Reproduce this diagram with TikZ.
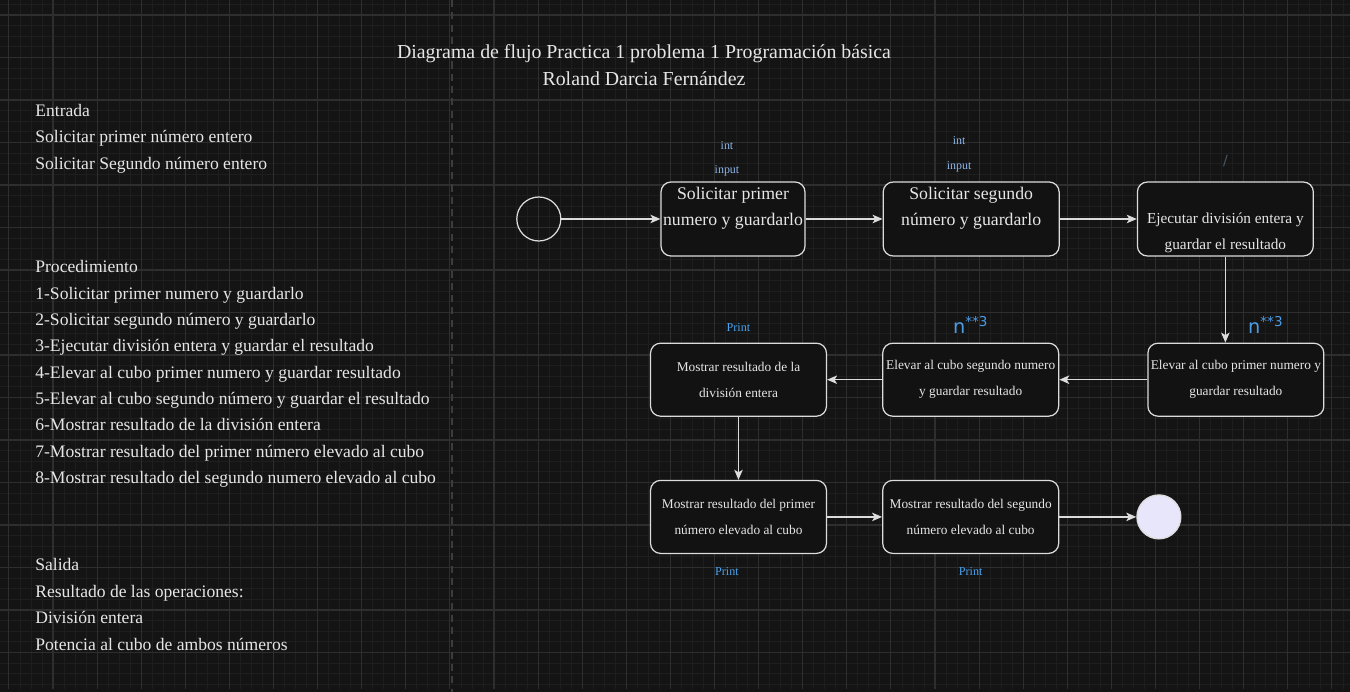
\documentclass[tikz,border=0pt]{standalone}
\usepackage{fontspec}
\setmainfont{Liberation Serif}
\newfontfamily\handfont{DejaVu Sans}
\usepackage{tikz}
\usetikzlibrary{arrows.meta, positioning}
\usepackage{xcolor}
\definecolor{bgcol}{HTML}{141414}
\definecolor{gridminor}{HTML}{1E1E1E}
\definecolor{gridmajor}{HTML}{2E2E2E}
\definecolor{dividercol}{HTML}{3C3C3C}
\definecolor{boxfill}{HTML}{121212}
\definecolor{boxline}{HTML}{DCDCDC}
\definecolor{txt}{HTML}{E6E6E6}
\definecolor{tagblue}{HTML}{8DB6EA}
\definecolor{printblue}{HTML}{4AA3F0}
\definecolor{cubeblue}{HTML}{4C9CE6}
\definecolor{slashcol}{HTML}{4A5866}
\definecolor{endfill}{HTML}{E8E6FA}

\begin{document}
\begin{tikzpicture}[
    x=0.02cm, y=-0.02cm,
    block/.style={rectangle, draw=boxline, line width=0.7pt, rounded corners=0.2cm, fill=boxfill, minimum width=3.52cm, minimum height=1.46cm, inner sep=0pt, align=center, text=txt, font=\fontsize{7.6pt}{14.8pt}\selectfont},
    bigblock/.style={block, minimum height=1.48cm, font=\fontsize{10.1pt}{14.5pt}\selectfont},
    terminal/.style={circle, draw=boxline, line width=0.7pt, minimum size=0.88cm, inner sep=0pt},
    note/.style={inner sep=0pt, align=left, text=txt, font=\fontsize{10pt}{15pt}\selectfont},
    tag/.style={inner sep=0pt, text=tagblue, font=\fontsize{6.8pt}{8pt}\selectfont},
    printtag/.style={inner sep=0pt, text=printblue, font=\fontsize{6.9pt}{8pt}\selectfont},
    cubetag/.style={inner sep=0pt, text=cubeblue, font=\handfont\fontsize{11pt}{11pt}\selectfont},
    arrow/.style={-{Stealth[length=0.2cm, width=0.17cm, inset=0.05cm]}, draw=boxline, line width=0.7pt},
]

% Background and grid
\useasboundingbox (0,0) rectangle (1350,692);
\fill[bgcol] (0,0) rectangle (1350,692);
\begin{scope}
\clip (0,0) rectangle (1350,688);
\foreach \gx in {0,...,123} \draw[gridminor, line width=0.5pt] ({-2.1+11.025*\gx},0) -- ++(0,692);
\foreach \gy in {0,...,66} \draw[gridminor, line width=0.5pt] (0,{4.375+10.625*\gy}) -- ++(1350,0);
\foreach \gx in {0,...,31} \draw[gridmajor, line width=0.6pt] ({8.9+44.1*\gx},0) -- ++(0,692);
\foreach \gy in {0,...,16} \draw[gridmajor, line width=0.6pt] (0,{15+42.5*\gy}) -- ++(1350,0);
\end{scope}
\draw[dividercol, line width=1.1pt, dash pattern=on 4pt off 3pt] (452,0) -- (452,692);

% Title
\node[note, align=center, font=\fontsize{11.3pt}{15.4pt}\selectfont] (title) at (644,65.5)
    {Diagrama de flujo Practica 1 problema 1 Programación básica\\Roland Darcia Fernández};

% Left column text
\node[note, anchor=west] (entrada) at (35,138.5)
    {Entrada\\Solicitar primer número entero\\Solicitar Segundo número entero};
\node[note, anchor=west] (procedimiento) at (35,374)
    {Procedimiento\\1-Solicitar primer numero y guardarlo\\2-Solicitar segundo número y guardarlo\\3-Ejecutar división entera y guardar el resultado\\4-Elevar al cubo primer numero y guardar resultado\\5-Elevar al cubo segundo número y guardar el resultado\\6-Mostrar resultado de la división entera\\7-Mostrar resultado del primer número elevado al cubo\\8-Mostrar resultado del segundo numero elevado al cubo};
\node[note, anchor=west] (salida) at (35,604.5)
    {Salida\\Resultado de las operaciones:\\División entera\\Potencia al cubo de ambos números};

% Top row
\node[bigblock, minimum width=2.88cm] (pedir1) at (733,219) {Solicitar primer\\numero y guardarlo\\\mbox{}};
\node[terminal, left=1.98cm of pedir1] (inicio) {};
\node[bigblock, right=1.54cm of pedir1] (pedir2) {Solicitar segundo\\número y guardarlo\\\mbox{}};
\node[block, minimum height=1.48cm, font=\fontsize{8.7pt}{14.8pt}\selectfont, right=1.54cm of pedir2] (dividir) {\rule{0pt}{6.5pt}\\Ejecutar división entera y\\guardar el resultado};

% Middle row
\node[block, below=1.72cm of dividir, xshift=0.21cm] (cubo1) {Elevar al cubo primer numero y\\guardar resultado};
\node[block, left=1.76cm of cubo1] (cubo2) {Elevar al cubo segundo numero\\y guardar resultado};
\node[block, left=1.1cm of cubo2] (mostrar1) {Mostrar resultado de la\\división entera};

% Bottom row
\node[block, below=1.26cm of mostrar1] (mostrar2) {Mostrar resultado del primer\\número elevado al cubo};
\node[block, right=1.1cm of mostrar2] (mostrar3) {Mostrar resultado del segundo\\número elevado al cubo};
\node[terminal, fill=endfill, right=1.54cm of mostrar3] (fin) {};

% Annotations
\node[tag, above=0.1cm of pedir1, xshift=-0.12cm] (input1) {input};
\node[tag, above=0.3cm of input1] (int1) {int};
\node[tag, above=0.18cm of pedir2, xshift=-0.24cm] (input2) {input};
\node[tag, above=0.32cm of input2] (int2) {int};
\node[inner sep=0pt, text=slashcol, font=\handfont\fontsize{8pt}{8pt}\selectfont, above=0.28cm of dividir] (slash) {/};
\node[cubetag, above=0.18cm of cubo1, xshift=0.6cm] (pot1) {n\textsuperscript{**3}};
\node[cubetag, above=0.18cm of cubo2] (pot2) {n\textsuperscript{**3}};
\node[printtag, above=0.22cm of mostrar1] (print1) {Print};
\node[printtag, below=0.26cm of mostrar2, xshift=-0.23cm] (print2) {Print};
\node[printtag, below=0.26cm of mostrar3] (print3) {Print};

% Flow
\draw[arrow] (inicio) -- (pedir1);
\draw[arrow] (pedir1) -- (pedir2);
\draw[arrow] (pedir2) -- (dividir);
\draw[arrow] (dividir.south) -- (dividir.south |- cubo1.north);
\draw[arrow] (cubo1) -- (cubo2);
\draw[arrow] (cubo2) -- (mostrar1);
\draw[arrow] (mostrar1) -- (mostrar2);
\draw[arrow] (mostrar2) -- (mostrar3);
\draw[arrow] (mostrar3) -- (fin);

\end{tikzpicture}
\end{document}
